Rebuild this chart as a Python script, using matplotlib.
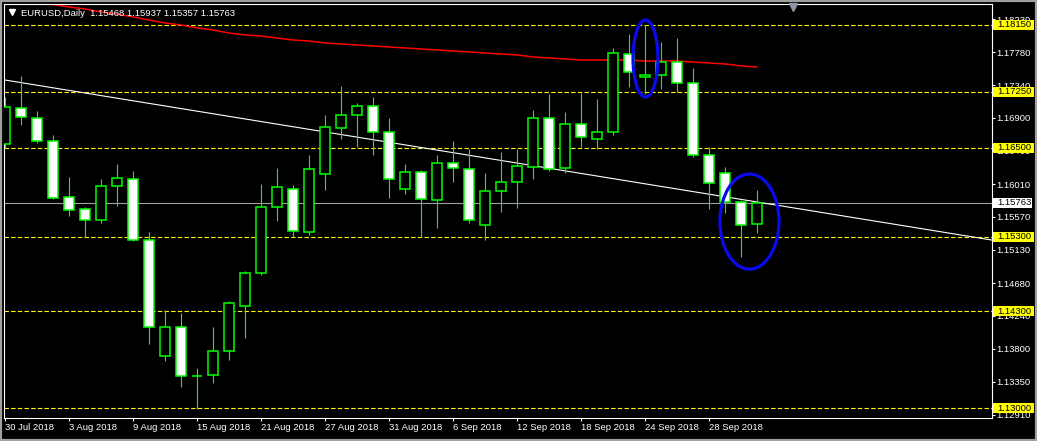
import numpy as np
import matplotlib.pyplot as plt
from matplotlib.patches import Rectangle, Ellipse
from matplotlib.transforms import blended_transform_factory

plt.rcParams['font.family'] = ['Liberation Sans', 'DejaVu Sans']

# EURUSD daily bars, 30 Jul 2018 .. 3 Oct 2018
opens = [1.16549, 1.17034, 1.16899, 1.16590, 1.15837, 1.15675, 1.15527, 1.15985,
         1.16079, 1.15258, 1.13698, 1.14088, 1.13432, 1.13443, 1.13765, 1.14371,
         1.14814, 1.15702, 1.15944, 1.15366, 1.16146, 1.16765, 1.16940, 1.17061,
         1.16711, 1.15944, 1.16173, 1.15796, 1.16294, 1.16213, 1.15460, 1.15917,
         1.16038, 1.16240, 1.16899, 1.16227, 1.16818, 1.16617, 1.16711, 1.17760,
         1.17451, 1.17478, 1.17652, 1.17370, 1.16402, 1.16159, 1.15769, 1.15468]
highs = [1.17182, 1.17464, 1.16993, 1.16671, 1.16106, 1.15702, 1.16079, 1.16280,
         1.16186, 1.15366, 1.14317, 1.14276, 1.13537, 1.14088, 1.14438, 1.14841,
         1.16011, 1.16227, 1.15998, 1.16402, 1.16940, 1.17330, 1.17101, 1.17182,
         1.16899, 1.16280, 1.16200, 1.16402, 1.16590, 1.16482, 1.16159, 1.16442,
         1.16482, 1.17007, 1.17222, 1.16980, 1.17235, 1.17155, 1.17841, 1.18029,
         1.18150, 1.17921, 1.17975, 1.17572, 1.16509, 1.16240, 1.15796, 1.15937]
lows = [1.16496, 1.16805, 1.16563, 1.15810, 1.15581, 1.15299, 1.15487, 1.15716,
        1.15245, 1.13859, 1.13631, 1.13281, 1.12985, 1.13335, 1.13644, 1.13940,
        1.14788, 1.15514, 1.15299, 1.15326, 1.15931, 1.16617, 1.16509, 1.16402,
        1.15823, 1.15877, 1.15299, 1.15420, 1.16038, 1.15487, 1.15258, 1.15635,
        1.15689, 1.16079, 1.16186, 1.16159, 1.16509, 1.16482, 1.16671, 1.17316,
        1.17222, 1.17289, 1.17249, 1.16375, 1.15675, 1.15621, 1.15030, 1.15357]
closes = [1.17047, 1.16913, 1.16590, 1.15823, 1.15662, 1.15527, 1.15985, 1.16092,
          1.15258, 1.14088, 1.14088, 1.13429, 1.13426, 1.13765, 1.14411, 1.14814,
          1.15702, 1.15971, 1.15379, 1.16213, 1.16778, 1.16940, 1.17061, 1.16711,
          1.16079, 1.16173, 1.15810, 1.16294, 1.16227, 1.15527, 1.15917, 1.16038,
          1.16254, 1.16899, 1.16213, 1.16818, 1.16644, 1.16711, 1.17773, 1.17518,
          1.17478, 1.17652, 1.17370, 1.16402, 1.16025, 1.15769, 1.15460, 1.15763]

# moving average (red), bars 3..47
ma_start = 3
ma_vals = [1.18425, 1.18392, 1.18365, 1.18325, 1.18298, 1.18258, 1.18217, 1.18177,
           1.18150, 1.18110, 1.18083, 1.18042, 1.18016, 1.18002, 1.17975, 1.17948,
           1.17935, 1.17908, 1.17894, 1.17881, 1.17868, 1.17854, 1.17841, 1.17827,
           1.17814, 1.17800, 1.17787, 1.17773, 1.17760, 1.17747, 1.17720, 1.17706,
           1.17693, 1.17679, 1.17679, 1.17679, 1.17679, 1.17666, 1.17666, 1.17666,
           1.17652, 1.17639, 1.17626, 1.17599, 1.17585]

# trendline anchors (bar index, price)
trend_x = [0, 61.69]
trend_y = [1.17410, 1.15258]

levels = [1.18150, 1.17250, 1.16500, 1.15300, 1.14300, 1.13000]
last_price = 1.15763
price_ticks = [1.12910, 1.13350, 1.13800, 1.14240, 1.14680, 1.15130, 1.15570,
               1.16010, 1.16460, 1.16900, 1.17340, 1.17780, 1.18230]
date_pos = [0, 4, 8, 12, 16, 20, 24, 28, 32, 36, 40, 44]
date_labels = ['30 Jul 2018', '3 Aug 2018', '9 Aug 2018', '15 Aug 2018', '21 Aug 2018',
               '27 Aug 2018', '31 Aug 2018', '6 Sep 2018', '12 Sep 2018', '18 Sep 2018',
               '24 Sep 2018', '28 Sep 2018']

# blue circles drawn by hand: (center bar, center price, width bars, height price)
circles = [(40.03, 1.17699, 1.56, 0.01036), (46.53, 1.15507, 3.69, 0.01278)]

green = '#00ff00'
fig = plt.figure(figsize=(10.37, 4.41), dpi=100, facecolor='black')
ax = fig.add_axes([4/1037, 1-418/441, 988/1037, 414/441], facecolor='black')

for i in range(len(opens)):
    o, h, l, c = opens[i], highs[i], lows[i], closes[i]
    ax.plot([i, i], [l, h], color=green, lw=0.8, zorder=3, solid_capstyle='butt')
    fill = 'black' if c > o else 'white'
    ax.add_patch(Rectangle((i-0.3, min(o, c)), 0.6, abs(c-o), facecolor=fill,
                           edgecolor=green, lw=1.1, zorder=4))

for lv in levels:
    ax.axhline(lv, color='#ffff00', lw=0.8, ls=(0, (4, 2)), zorder=2)
ax.axhline(last_price, color='#a0a0a0', lw=0.8, zorder=2)

ma_x = np.arange(ma_start, ma_start+len(ma_vals))
ax.plot(ma_x, ma_vals, color='#ff0000', lw=1.1, zorder=2.5)
ax.plot(trend_x, trend_y, color='white', lw=0.8, zorder=2.5)

for cx, cy, w, hgt in circles:
    ax.add_patch(Ellipse((cx, cy), w, hgt, fill=False, edgecolor='#0a0af0', lw=2.3, zorder=6))

ax.set_xlim(-0.0625, 61.6875)
ax.set_ylim(1.12866, 1.18432)

for s in ax.spines.values():
    s.set_color('white')
    s.set_linewidth(0.8)

ax.yaxis.tick_right()
ax.set_yticks(price_ticks)
ax.set_yticklabels([f'{p:.5f}' for p in price_ticks])
ax.set_xticks(date_pos)
ax.set_xticklabels(date_labels, ha='left')
ax.tick_params(axis='y', colors='white', labelsize=6.8, length=2.2, width=0.8, pad=1.2)
ax.tick_params(axis='x', colors='white', labelsize=6.8, length=2.2, width=0.8, pad=1.5)

# price labels on the right scale
trans = blended_transform_factory(ax.transAxes, ax.transData)
box_h = 10/7437
for lv in levels:
    ax.add_patch(Rectangle((1.001, lv-box_h/2), 0.0415, box_h, transform=trans,
                           facecolor='#ffff00', edgecolor='none', clip_on=False, zorder=7))
    ax.text(1.0051, lv, f'{lv:.5f}', transform=trans, ha='left', va='center',
            fontsize=6.8, color='black', zorder=8, clip_on=False)
ax.add_patch(Rectangle((1.001, last_price-box_h/2), 0.0395, box_h, transform=trans,
                       facecolor='white', edgecolor='none', clip_on=False, zorder=7))
ax.text(1.0051, last_price, f'{last_price:.5f}', transform=trans, ha='left', va='center',
        fontsize=6.8, color='black', zorder=8, clip_on=False)

# header
ax.plot([0.0081], [0.9795], marker='v', color='white', ms=4.5, transform=ax.transAxes, zorder=8)
ax.text(0.0172, 0.978, 'EURUSD,Daily  %.5f %.5f %.5f %.5f' % (opens[-1], highs[-1], lows[-1], closes[-1]),
        transform=ax.transAxes, color='white', fontsize=6.8, va='center', ha='left', zorder=8)
ax.plot([0.7986], [0.9925], marker='v', color='#8a96a4', ms=6, transform=ax.transAxes,
        zorder=8, clip_on=False)

fig.patches.append(Rectangle((0, 0), 1, 1, transform=fig.transFigure, fill=False,
                             edgecolor='#a0a0a0', lw=3))

fig.savefig('out.png', dpi=100, facecolor='black')
